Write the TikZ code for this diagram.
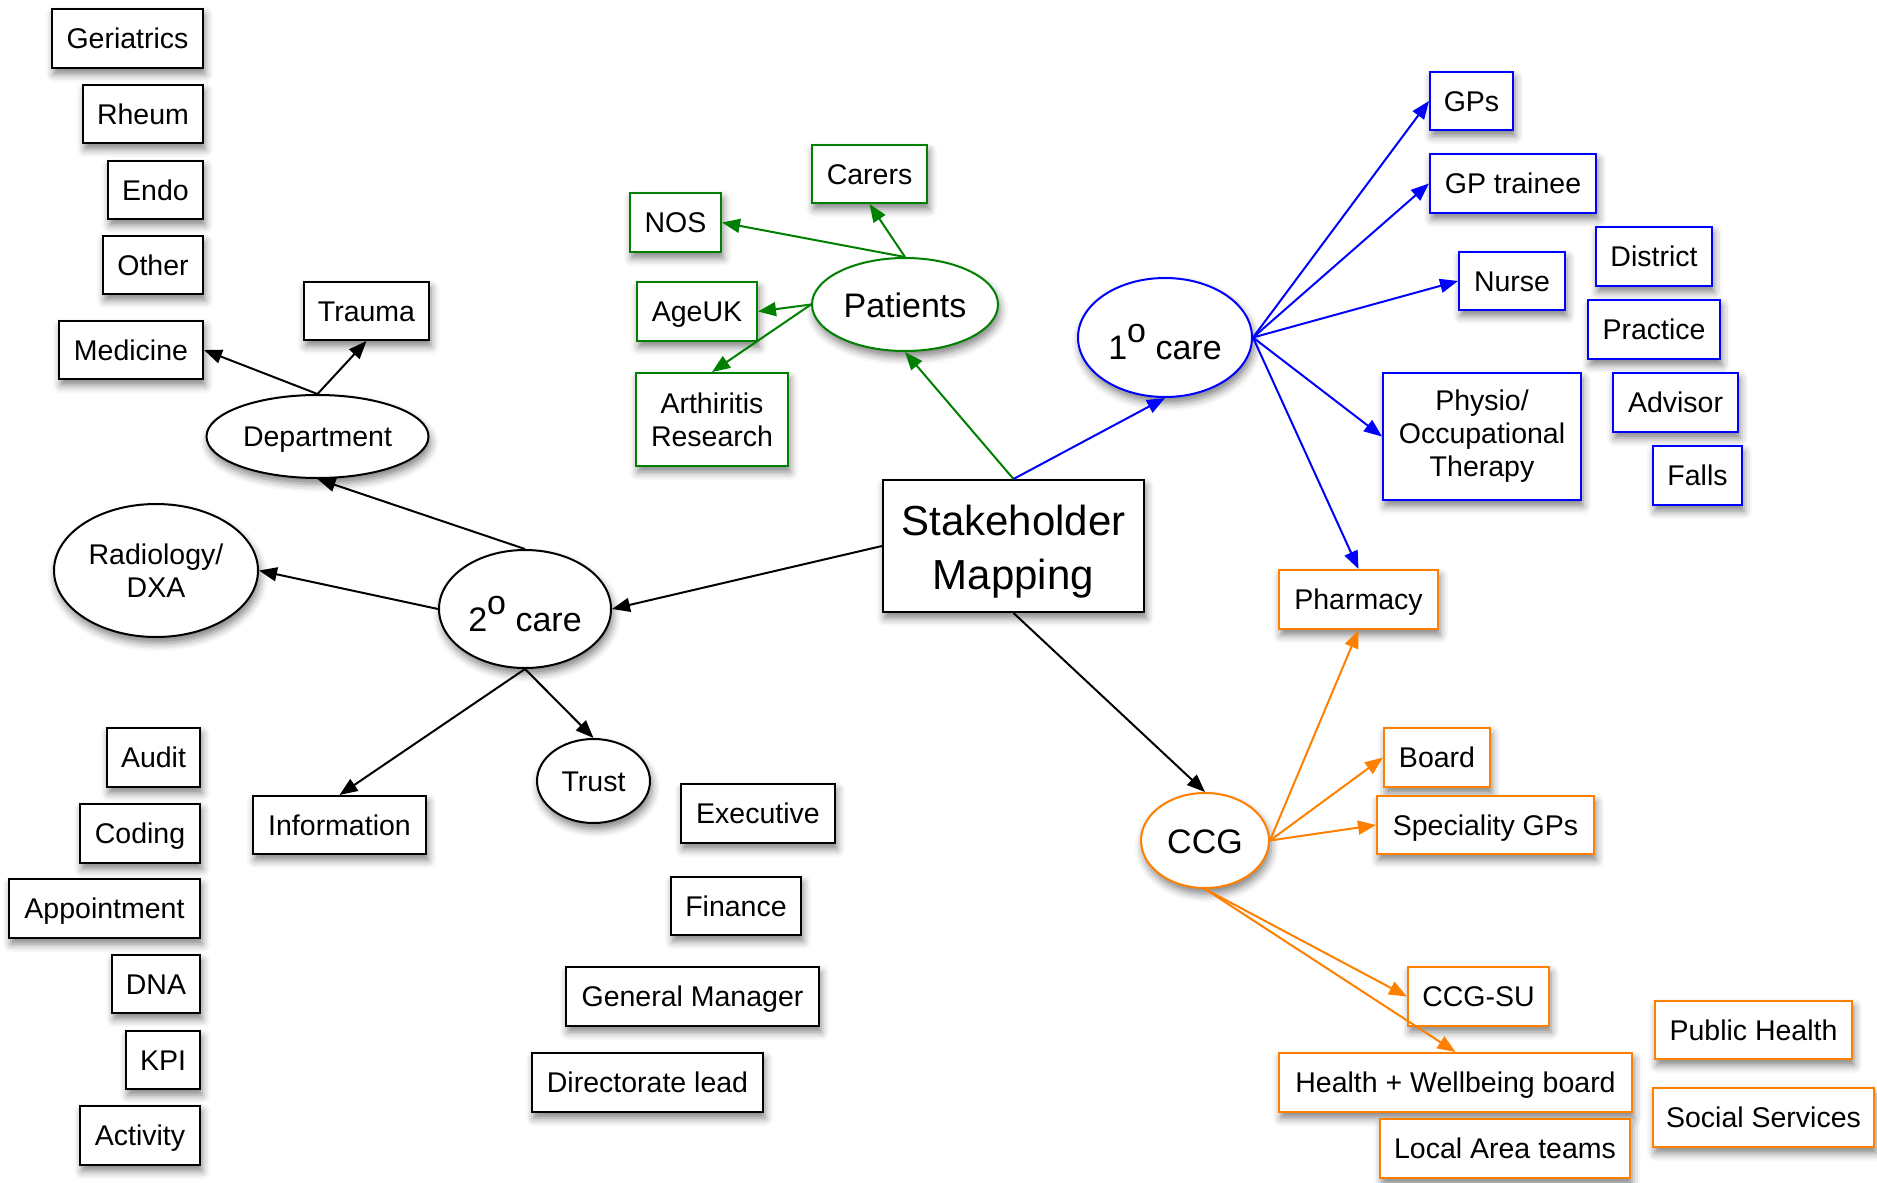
\documentclass[tikz,border=0pt]{standalone}
\usepackage{fontspec}
\setmainfont{Liberation Sans}
\usetikzlibrary{shapes.geometric,arrows.meta,shadows.blur}
\definecolor{cgreen}{RGB}{0,128,0}
\definecolor{cblue}{RGB}{0,0,255}
\definecolor{corange}{RGB}{255,128,0}
\tikzset{
  base/.style={draw, fill=white, line width=2pt, inner sep=0pt,
    font=\fontsize{28.5}{33}\selectfont, text height=21.4pt, text depth=1.4pt,
    blur shadow={shadow xshift=2pt, shadow yshift=-6pt, shadow blur radius=8pt, shadow opacity=50}},
  box/.style={base, rectangle},
  ell/.style={base, ellipse},
  multi/.style={align=center, text height=, text depth=},
  sz/.style 2 args={minimum width=#1pt, minimum height=#2pt},
  bigf/.style={font=\fontsize{34}{40}\selectfont, text height=26.5pt, text depth=0pt},
  ar/.style={line width=2pt, -{Triangle[length=18pt,width=14pt]}},
}
% ordinal label with a raised letter o, e.g. 1o care
\newcommand{\ord}[1]{\rule{0pt}{44pt}#1\raisebox{0.5em}{o} care}
\begin{document}
\begin{tikzpicture}[x=1pt,y=-1pt]
\useasboundingbox (0,0) rectangle (1877,1183);

% central node
\node[box, multi, sz={261}{132}, font=\fontsize{42}{54}\selectfont] (SM) at (1013.5,546) {\rule{0pt}{42pt}Stakeholder\\Mapping};

% secondary care branch
\node[ell, bigf, text height=, sz={172}{118}] (C2) at (525,609) {\ord{2}};
\node[ell, sz={222}{83}] (Dept) at (317.5,436.5) {Department};
\node[ell, multi, sz={204}{133}] (Rad) at (156,570.5) {Radiology/\\DXA};
\node[ell, sz={113}{84}] (Trust) at (593.5,781) {Trust};
\node[box, sz={173}{58}] (Info) at (339.5,825) {Information};
\node[box, sz={144}{58}] (Med) at (131,350) {Medicine};
\node[box, sz={125}{58}] (Trauma) at (366.5,311) {Trauma};
\node[box, sz={151}{59}] (Ger) at (127.5,38.5) {Geriatrics};
\node[box, sz={120}{58}] (Rheum) at (143,114) {Rheum};
\node[box, sz={95}{58}] (Endo) at (155.5,190) {Endo};
\node[box, sz={100}{58}] (Other) at (153,265) {Other};
\node[box, sz={93}{59}] (Audit) at (153.5,757.5) {Audit};
\node[box, sz={120}{59}] (Coding) at (140,833.5) {Coding};
\node[box, sz={191}{59}] (Appt) at (104.5,908.5) {Appointment};
\node[box, sz={88}{58}] (DNA) at (156,984) {DNA};
\node[box, sz={74}{58}] (KPI) at (163,1060) {KPI};
\node[box, sz={120}{59}] (Act) at (140,1135.5) {Activity};
\node[box, sz={154}{59}] (Exec) at (758,813.5) {Executive};
\node[box, sz={130}{58}] (Fin) at (736,906) {Finance};
\node[box, sz={253}{59}] (GM) at (692.5,996.5) {General Manager};
\node[box, sz={231}{59}] (DL) at (647.5,1082.5) {Directorate lead};

% patients branch
\begin{scope}[every node/.append style={draw=cgreen}]
\node[ell, bigf, sz={186}{93}] (Pat) at (905,304.5) {Patients};
\node[box, sz={115}{58}] (Carers) at (869.5,174) {Carers};
\node[box, sz={91}{59}] (NOS) at (675.5,222.5) {NOS};
\node[box, sz={120}{59}] (Age) at (697,311.5) {AgeUK};
\node[box, multi, sz={152}{93}] (AR) at (712,419.5) {Arthiritis\\Research};
\end{scope}

% primary care branch
\begin{scope}[every node/.append style={draw=cblue}]
\node[ell, bigf, text height=, sz={174}{119}] (C1) at (1165,337.5) {\ord{1}};
\node[box, sz={83}{58}] (GPs) at (1471.5,101) {GPs};
\node[box, sz={166}{59}] (GPtr) at (1513,183.5) {GP trainee};
\node[box, sz={106}{58}] (Nurse) at (1512,281) {Nurse};
\node[box, multi, sz={198}{127}] (Phys) at (1482,436.5) {Physio/\\Occupational\\Therapy};
\node[box, sz={116}{59}] (Dist) at (1654,256.5) {District};
\node[box, sz={132}{59}] (Prac) at (1654,329.5) {Practice};
\node[box, sz={125}{59}] (Adv) at (1675.5,402.5) {Advisor};
\node[box, sz={89}{59}] (Falls) at (1697.5,475.5) {Falls};
\end{scope}

% CCG branch
\begin{scope}[every node/.append style={draw=corange}]
\node[ell, bigf, sz={128}{95}] (CCG) at (1205,840.5) {CCG};
\node[box, sz={159}{59}] (Pharm) at (1358.5,599.5) {Pharmacy};
\node[box, sz={106}{59}] (Board) at (1437,757.5) {Board};
\node[box, sz={217}{58}] (Spec) at (1485.5,825) {Speciality GPs};
\node[box, sz={141}{59}] (SU) at (1478.5,996.5) {CCG-SU};
\node[box, sz={353}{59}] (HW) at (1455.5,1082.5) {Health + Wellbeing board};
\node[box, sz={250}{59}] (LAT) at (1505,1148.5) {Local Area teams};
\node[box, sz={197}{58}] (PH) at (1753.5,1030) {Public Health};
\node[box, sz={221}{59}] (SS) at (1763.5,1117.5) {Social Services};
\end{scope}

% connectors
\draw[ar] (SM.west) -- (C2.east);
\draw[ar] (C2.north) -- (Dept.south);
\draw[ar] (C2.west) -- (Rad.east);
\draw[ar] (C2.south) -- (Info.north);
\draw[ar] (C2.south) -- (Trust.north);
\draw[ar] (Dept.north) -- (Med.east);
\draw[ar] (Dept.north) -- (Trauma.south);
\draw[ar] (SM.south) -- (CCG.north);

\draw[ar, cgreen] (SM.north) -- (Pat.south);
\draw[ar, cgreen] (Pat.north) -- (Carers.south);
\draw[ar, cgreen] (Pat.north) -- (NOS.east);
\draw[ar, cgreen] (Pat.west) -- (Age.east);
\draw[ar, cgreen] (Pat.west) -- (AR.north);

\draw[ar, cblue] (SM.north) -- (C1.south);
\draw[ar, cblue] (C1.east) -- (GPs.west);
\draw[ar, cblue] (C1.east) -- (GPtr.west);
\draw[ar, cblue] (C1.east) -- (Nurse.west);
\draw[ar, cblue] (C1.east) -- (Phys.west);
\draw[ar, cblue] (C1.east) -- (Pharm.north);

\draw[ar, corange] (CCG.east) -- (Pharm.south);
\draw[ar, corange] (CCG.east) -- (Board.west);
\draw[ar, corange] (CCG.east) -- (Spec.west);
\draw[ar, corange] (CCG.south) -- (SU.west);
\draw[ar, corange] (CCG.south) -- (HW.north);
\end{tikzpicture}
\end{document}
